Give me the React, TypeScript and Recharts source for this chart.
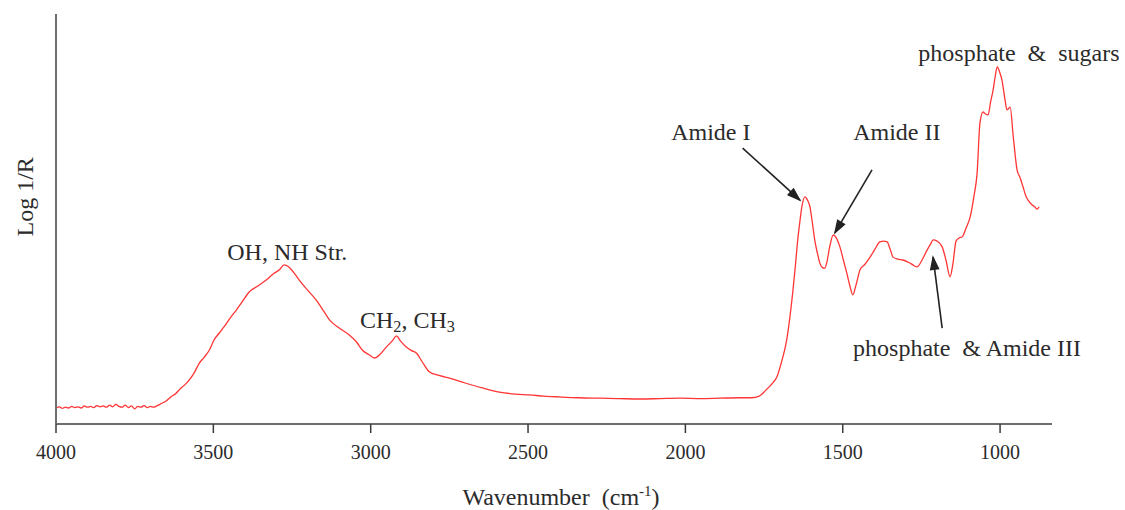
import React from 'react';
import { LineChart, Line, XAxis, YAxis, ReferenceDot, ReferenceLine } from 'recharts';

// FTIR spectrum: wavenumber (cm-1) and Log 1/R (arbitrary units)
const WAVENUMBERS = [
  4000, 3990, 3980, 3970, 3960, 3950, 3940, 3930, 3920, 3910, 3900, 3890, 3880, 3870, 3860, 3850,
  3840, 3830, 3820, 3810, 3800, 3790, 3780, 3770, 3760, 3750, 3740, 3730, 3720, 3710, 3700, 3690,
  3680, 3665, 3650, 3635, 3620, 3605, 3590, 3577, 3560, 3545,
  3530, 3513, 3497, 3481, 3465, 3445, 3427, 3410, 3386, 3360, 3332, 3310, 3290, 3275, 3262, 3245,
  3227, 3200, 3173, 3150, 3131, 3100, 3068, 3045, 3026, 3005, 2988, 2970, 2950, 2930, 2918, 2905,
  2887, 2870, 2855, 2835, 2813, 2780, 2750, 2700, 2645, 2591, 2540, 2495, 2450, 2400, 2340, 2272,
  2210, 2145, 2080, 2018, 1950, 1891, 1830, 1790, 1765, 1745, 1725, 1709, 1695, 1678, 1668, 1658,
  1650, 1643, 1636, 1630, 1620, 1612, 1604, 1596, 1589, 1580, 1573, 1565, 1557, 1550, 1542, 1530,
  1522, 1509, 1498, 1487, 1477, 1468, 1458, 1445, 1430, 1413, 1398, 1382, 1370, 1359, 1350, 1340,
  1325, 1309, 1290, 1275, 1264, 1248, 1232, 1220, 1213, 1200, 1184, 1172, 1159, 1150, 1140, 1130,
  1121, 1108, 1095, 1083, 1073, 1064, 1054, 1046, 1038, 1030, 1022, 1015, 1009, 1002, 994, 985,
  978, 968, 958, 946, 936, 927, 918, 911, 898, 890, 882, 876,
];

const LOG_INV_R = [
  3.9, 4.2, 3.8, 4.1, 3.9, 4.3, 4.0, 4.2, 3.9, 4.4, 4.1, 4.3, 4.0, 4.5, 4.2, 4.4,
  4.1, 4.6, 4.2, 4.8, 4.3, 4.1, 4.6, 4.0, 4.4, 3.7, 4.3, 4.1, 4.5, 4.0, 4.3, 4.1,
  4.4, 5.0, 5.6, 6.6, 7.4, 8.6, 9.6, 10.7, 12.6, 14.8,
  16.2, 18.0, 20.6, 22.2, 23.8, 26.0, 27.8, 29.6, 32.2, 33.6, 35.1, 36.6, 37.6, 38.8, 38.4, 37.0,
  35.1, 32.6, 30.2, 27.6, 25.4, 23.4, 21.7, 20.0, 18.0, 16.9, 16.1, 17.0, 18.8, 20.4, 21.5, 20.2,
  18.8, 17.9, 17.3, 15.0, 12.7, 11.8, 11.2, 10.0, 8.8, 7.8, 7.3, 7.1, 6.8, 6.6, 6.4, 6.3,
  6.2, 6.1, 6.2, 6.3, 6.2, 6.3, 6.4, 6.4, 6.8, 8.2, 9.8, 11.5, 15.0, 20.5, 26.0, 32.7,
  39.0, 44.9, 49.5, 52.9, 55.4, 54.6, 52.9, 48.8, 44.9, 41.5, 39.3, 38.2, 38.0, 39.6, 43.0, 46.1,
  45.6, 43.2, 40.0, 36.8, 33.6, 31.5, 33.8, 37.6, 38.9, 40.7, 42.6, 44.4, 44.6, 44.4, 42.8, 40.7,
  40.2, 40.0, 39.4, 38.7, 38.3, 40.0, 42.4, 44.0, 44.9, 44.6, 43.2, 40.0, 35.9, 39.0, 44.6, 45.4,
  45.6, 47.8, 50.5, 55.6, 61.2, 73.4, 76.1, 75.6, 75.4, 78.6, 81.5, 85.0, 87.1, 86.0, 83.9, 79.4,
  76.6, 77.3, 70.0, 62.0, 60.0, 57.8, 55.6, 54.6, 53.4, 53.0, 52.4, 53.0,
];

const X_TICKS = [4000, 3500, 3000, 2500, 2000, 1500, 1000];

// Band assignments and where their captions sit (wavenumber, Log 1/R)
const BAND_LABELS = ['OH, NH Str.', 'CH2, CH3', 'Amide I', 'Amide II', 'phosphate  &  sugars', 'phosphate  & Amide III'];
const BAND_LABEL_WN = [3265, 2883, 1919, 1328, 940, 1105];
const BAND_LABEL_VAL = [42.0, 25.4, 71.2, 71.2, 90.5, 18.5];

// Pointer arrows from caption to band
const ARROW_FROM_WN = [1818, 1407, 1184];
const ARROW_FROM_VAL = [67.3, 62.0, 23.4];
const ARROW_TO_WN = [1636, 1525, 1213];
const ARROW_TO_VAL = [54.6, 46.6, 40.7];

const FONT = "'Liberation Serif', 'Times New Roman', serif";
const TEXT_COLOR = '#2b2b2b';

const spectrum = WAVENUMBERS.map((wn, i) => ({ wn, v: LOG_INV_R[i] }));

// Renders text where digits become subscripts (CH2, CH3)
const renderChemText = (text: string, size: number) => {
  const parts = text.split(/(\d)/).filter((s) => s.length > 0);
  let sub = false;
  return parts.map((p, i) => {
    const isDigit = /^\d$/.test(p);
    let dy = 0;
    if (isDigit && !sub) { dy = 6; sub = true; }
    else if (!isDigit && sub) { dy = -6; sub = false; }
    return (
      <tspan key={i} dy={dy} fontSize={isDigit ? size * 0.68 : size}>
        {p}
      </tspan>
    );
  });
};

const makeCaption = (text: string) => (props: any) => {
  const { cx, cy } = props;
  const size = 24;
  return (
    <text
      x={cx}
      y={cy}
      textAnchor="middle"
      dominantBaseline="central"
      fontFamily={FONT}
      fontSize={size}
      fill={TEXT_COLOR}
      style={{ whiteSpace: 'pre' }}
    >
      {renderChemText(text, size)}
    </text>
  );
};

const ArrowShape = (props: any) => {
  const { x1, y1, x2, y2 } = props;
  const ang = Math.atan2(y2 - y1, x2 - x1);
  const len = 13;
  const spread = 0.32;
  const a1 = ang + Math.PI - spread;
  const a2 = ang + Math.PI + spread;
  const pts = `${x2 + len * Math.cos(a1)},${y2 + len * Math.sin(a1)} ${x2},${y2} ${x2 + len * Math.cos(a2)},${y2 + len * Math.sin(a2)}`;
  return (
    <g>
      <line x1={x1} y1={y1} x2={x2} y2={y2} stroke="#222" strokeWidth={1.6} />
      <polygon points={pts} fill="#222" stroke="#222" strokeWidth={1.2} strokeLinejoin="miter" />
    </g>
  );
};

const XTitle = (props: any) => {
  const { viewBox } = props;
  const cx = viewBox.x + viewBox.width / 2 + 7;
  const y = viewBox.y + 81;
  return (
    <text x={cx} y={y} textAnchor="middle" fontFamily={FONT} fontSize={24} fill={TEXT_COLOR} style={{ whiteSpace: 'pre' }}>
      <tspan>Wavenumber  (cm</tspan>
      <tspan dy={-9} fontSize={15}>-1</tspan>
      <tspan dy={9}>)</tspan>
    </text>
  );
};

const YTitle = (props: any) => {
  const { viewBox } = props;
  const x = viewBox.x + viewBox.width - 31;
  const y = viewBox.y + viewBox.height * 0.446;
  return (
    <text
      x={x}
      y={y}
      textAnchor="middle"
      dominantBaseline="central"
      transform={`rotate(-90, ${x}, ${y})`}
      fontFamily={FONT}
      fontSize={24}
      fill={TEXT_COLOR}
    >
      Log 1/R
    </text>
  );
};

export default function App() {
  return (
    <div style={{ position: 'absolute', left: 0, top: 0, width: 1125, height: 510, background: '#fff' }}>
      <LineChart width={1125} height={510} data={spectrum} margin={{ top: 14, right: 73, bottom: 0, left: 52 }}>
        <XAxis
          dataKey="wn"
          type="number"
          domain={[835, 4000]}
          reversed
          allowDataOverflow
          ticks={X_TICKS}
          height={86}
          tickSize={9}
          tickMargin={12}
          axisLine={{ stroke: '#6e6e6e', strokeWidth: 2 }}
          tickLine={{ stroke: '#3a3a3a', strokeWidth: 1.5 }}
          tick={{ fontSize: 20, fill: TEXT_COLOR, fontFamily: FONT }}
          label={<XTitle />}
        />
        <YAxis
          type="number"
          domain={[0, 100]}
          allowDataOverflow
          width={4}
          tick={false}
          tickLine={false}
          axisLine={{ stroke: '#6e6e6e', strokeWidth: 2 }}
          label={<YTitle />}
        />
        <Line
          type="monotoneX"
          dataKey="v"
          stroke="#ff3535"
          strokeWidth={1.3}
          dot={false}
          isAnimationActive={false}
        />
        {ARROW_FROM_WN.map((wn, i) => (
          <ReferenceLine
            key={`arrow-${i}`}
            segment={[
              { x: wn, y: ARROW_FROM_VAL[i] },
              { x: ARROW_TO_WN[i], y: ARROW_TO_VAL[i] },
            ]}
            shape={ArrowShape}
          />
        ))}
        {BAND_LABELS.map((text, i) => (
          <ReferenceDot
            key={`band-${i}`}
            x={BAND_LABEL_WN[i]}
            y={BAND_LABEL_VAL[i]}
            r={0}
            shape={makeCaption(text)}
          />
        ))}
      </LineChart>
    </div>
  );
}
